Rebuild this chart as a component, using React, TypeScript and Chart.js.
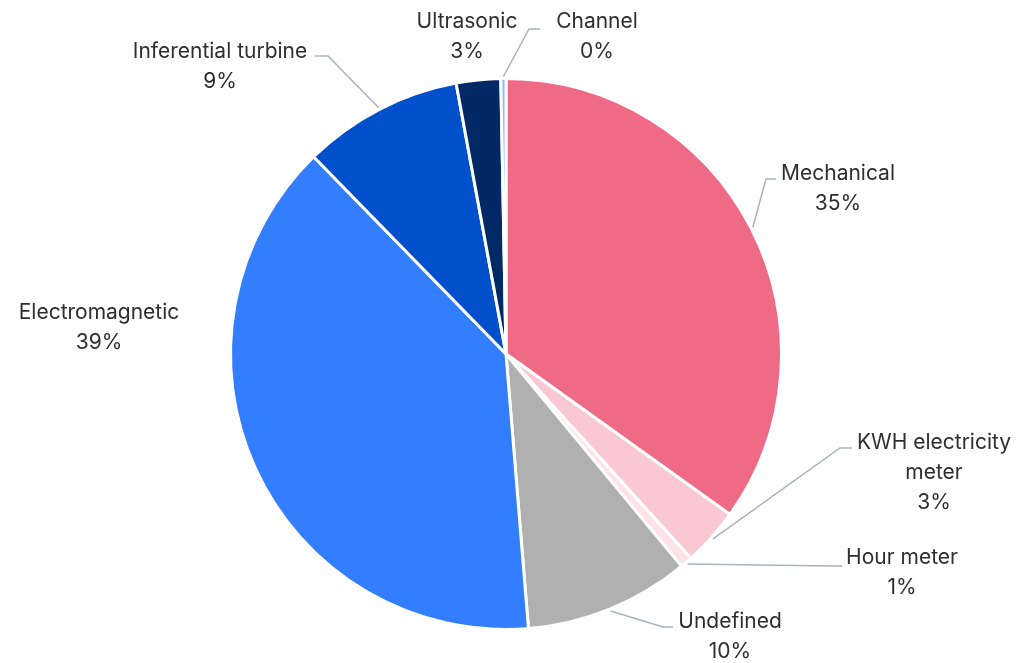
import React, { useEffect, useRef } from "react";
import { Chart, registerables } from "chart.js";

Chart.register(...registerables);

const categories = [
  "Mechanical",
  "KWH electricity meter",
  "Hour meter",
  "Undefined",
  "Electromagnetic",
  "Inferential turbine",
  "Ultrasonic",
  "Channel",
];
const shares = [34.9, 3.4, 0.7, 9.7, 39.0, 9.4, 2.6, 0.3];
const labelLines = [
  ["Mechanical"],
  ["KWH electricity", "meter"],
  ["Hour meter"],
  ["Undefined"],
  ["Electromagnetic"],
  ["Inferential turbine"],
  ["Ultrasonic"],
  ["Channel"],
];

const colors = ["#EF6A85", "#F9C8D3", "#FDE2E7", "#B0B0B0", "#337DFF", "#0050CC", "#002966", "#8FB8FF"];

// label layout relative to pie centre (px): text centre of first line, elbow, line end
type Lay = { tx: number; ty: number; elbow?: [number, number]; end?: [number, number] };
const layout: Lay[] = [
  { tx: 332, ty: -180, elbow: [260, -175], end: [270, -175] },
  { tx: 428, ty: 89, elbow: [334, 94], end: [346, 94] },
  { tx: 396, ty: 204, elbow: [326, 212], end: [336, 212] },
  { tx: 224, ty: 268, elbow: [157, 273], end: [167, 273] },
  { tx: -407, ty: -41 },
  { tx: -286, ty: -302, elbow: [-178, -298], end: [-191, -298] },
  { tx: -39, ty: -332 },
  { tx: 91, ty: -332, elbow: [23, -325], end: [34, -325] },
];

const FONT = '21px Inter, "Open Sans", sans-serif';
const LINE_H = 30;

const labelPlugin = {
  id: "outerLabels",
  afterDatasetsDraw(chart: any) {
    const ctx = chart.ctx as CanvasRenderingContext2D;
    const meta = chart.getDatasetMeta(0);
    const data = chart.data.datasets[0].data as number[];
    const total = data.reduce((a, b) => a + b, 0);
    ctx.save();
    meta.data.forEach((arc: any, i: number) => {
      const p = arc.getProps(["x", "y", "startAngle", "endAngle", "outerRadius"], true);
      const cx = p.x;
      const cy = p.y;
      const mid = (p.startAngle + p.endAngle) / 2;
      const L = layout[i];
      if (L.elbow && L.end) {
        const sx = cx + Math.cos(mid) * (p.outerRadius + 2);
        const sy = cy + Math.sin(mid) * (p.outerRadius + 2);
        ctx.strokeStyle = "#A8B3BD";
        ctx.lineWidth = 1.5;
        ctx.beginPath();
        ctx.moveTo(sx, sy);
        ctx.lineTo(cx + L.elbow[0], cy + L.elbow[1]);
        ctx.lineTo(cx + L.end[0], cy + L.end[1]);
        ctx.stroke();
      }
      const lines = [...labelLines[i], Math.round((data[i] / total) * 100) + "%"];
      ctx.fillStyle = "#2E2E2E";
      ctx.font = FONT;
      ctx.textAlign = "center";
      ctx.textBaseline = "middle";
      lines.forEach((t, k) => {
        ctx.fillText(t, cx + L.tx, cy + L.ty + k * LINE_H);
      });
    });
    ctx.restore();
  },
};

export default function App() {
  const ref = useRef<HTMLCanvasElement>(null);
  useEffect(() => {
    if (!ref.current) return;
    const chart = new Chart(ref.current, {
      type: "pie",
      data: {
        labels: categories,
        datasets: [
          {
            data: shares,
            backgroundColor: colors,
            borderColor: "#FFFFFF",
            borderWidth: 3,
          },
        ],
      },
      options: {
        responsive: false,
        animation: false,
        layout: { padding: { top: 77, bottom: 32, left: 229, right: 243 } },
        plugins: {
          legend: { display: false },
          tooltip: { enabled: false },
        },
      },
      plugins: [labelPlugin],
    });
    return () => chart.destroy();
  }, []);
  return (
    <div style={{ position: "absolute", left: 0, top: 0, width: 1026, height: 663, background: "#fff" }}>
      <canvas ref={ref} width={1026} height={663} style={{ display: "block" }} />
    </div>
  );
}
